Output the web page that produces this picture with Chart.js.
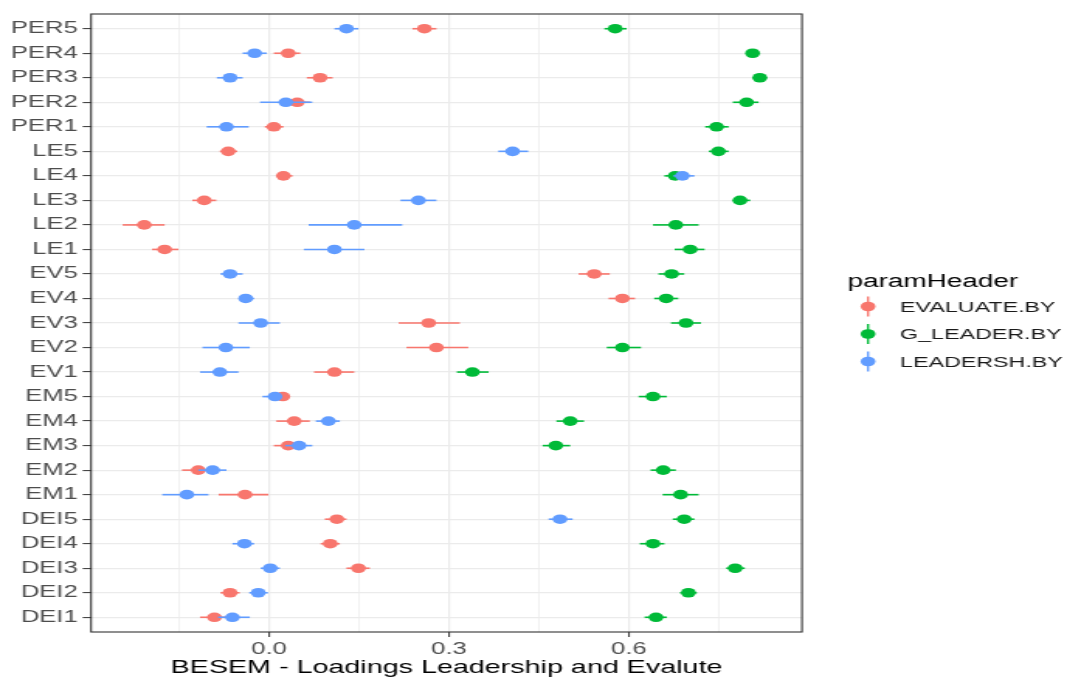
<!DOCTYPE html>
<html>
<head>
<meta charset="utf-8">
<script src="https://cdn.jsdelivr.net/npm/chart.js@4"></script>
<style>
  html, body { margin: 0; padding: 0; background: #fff; }
  /* the reference is stretched sideways, so the canvas is drawn narrow and widened by css */
  #grafico { display: block; width: 1067px; height: 680px; }
</style>
</head>
<body>
<canvas id="grafico" width="688" height="680" style="width:1067px;height:680px"></canvas>
<script>
// categorias de abajo hacia arriba
const categorias = ['DEI1','DEI2','DEI3','DEI4','DEI5','EM1','EM2','EM3','EM4','EM5',
  'EV1','EV2','EV3','EV4','EV5','LE1','LE2','LE3','LE4','LE5',
  'PER1','PER2','PER3','PER4','PER5'];

// EVALUATE.BY
const evaluateEst = [-0.091,-0.065,0.149,0.102,0.113,-0.040,-0.118,0.032,0.042,0.023,
  0.109,0.279,0.266,0.589,0.542,-0.174,-0.208,-0.108,0.024,-0.068,
  0.008,0.047,0.085,0.032,0.259];
const evaluateLo = [-0.115,-0.081,0.129,0.086,0.093,-0.084,-0.145,0.008,0.012,0.002,
  0.075,0.229,0.216,0.566,0.516,-0.195,-0.244,-0.128,0.012,-0.082,
  -0.007,0.027,0.063,0.008,0.239];
const evaluateHi = [-0.068,-0.049,0.168,0.118,0.129,-0.001,-0.095,0.058,0.068,0.035,
  0.142,0.332,0.318,0.610,0.568,-0.151,-0.174,-0.088,0.039,-0.053,
  0.024,0.068,0.106,0.052,0.279];

// G_LEADER.BY
const gLeaderEst = [0.645,0.699,0.777,0.640,0.692,0.686,0.657,0.478,0.502,0.640,
  0.339,0.589,0.695,0.662,0.671,0.702,0.678,0.785,0.677,0.749,
  0.746,0.796,0.818,0.806,0.577];
const gLeaderLo = [0.626,0.685,0.762,0.618,0.673,0.656,0.636,0.456,0.479,0.616,
  0.313,0.563,0.670,0.642,0.649,0.676,0.640,0.773,0.659,0.733,
  0.727,0.773,0.806,0.795,0.559];
const gLeaderHi = [0.663,0.713,0.793,0.659,0.709,0.716,0.678,0.502,0.525,0.663,
  0.366,0.620,0.720,0.682,0.692,0.726,0.716,0.802,0.698,0.766,
  0.766,0.816,0.830,0.817,0.596];

// LEADERSH.BY
const leadershEst = [-0.061,-0.018,0.002,-0.041,0.485,-0.137,-0.094,0.050,0.099,0.010,
  -0.082,-0.072,-0.014,-0.039,-0.065,0.109,0.142,0.249,0.689,0.406,
  -0.071,0.028,-0.065,-0.024,0.129];
const leadershLo = [-0.085,-0.033,-0.014,-0.061,0.466,-0.178,-0.118,0.027,0.078,-0.011,
  -0.115,-0.111,-0.051,-0.050,-0.081,0.058,0.066,0.219,0.674,0.382,
  -0.104,-0.015,-0.087,-0.044,0.109];
const leadershHi = [-0.032,-0.002,0.018,-0.025,0.506,-0.101,-0.071,0.072,0.118,0.021,
  -0.051,-0.032,0.018,-0.025,-0.044,0.159,0.222,0.279,0.709,0.432,
  -0.034,0.072,-0.044,-0.004,0.149];

const ticksX = [-0.15, 0, 0.15, 0.3, 0.45, 0.6, 0.75];
const ticksXLabel = [0, 0.3, 0.6];

const series = [
  {nombre:'EVALUATE.BY', color:'#F8766D', est:evaluateEst, lo:evaluateLo, hi:evaluateHi, orden:2},
  {nombre:'G_LEADER.BY', color:'#00BA38', est:gLeaderEst, lo:gLeaderLo, hi:gLeaderHi, orden:1},
  {nombre:'LEADERSH.BY', color:'#619CFF', est:leadershEst, lo:leadershLo, hi:leadershHi, orden:0}
];

const fuente = "'Liberation Sans', Arial, sans-serif";
const esMayor = v => ticksXLabel.some(t => Math.abs(t - v) < 1e-6);

// barras de error por dataset, antes de sus puntos
const barrasError = {
  id: 'barrasError',
  beforeDatasetDraw(chart, args) {
    const s = series[args.index];
    const {ctx, scales: {x, y}} = chart;
    ctx.save();
    ctx.strokeStyle = s.color;
    ctx.lineWidth = 1.6;
    s.est.forEach((v, i) => {
      const py = y.getPixelForValue(i);
      ctx.beginPath();
      ctx.moveTo(x.getPixelForValue(s.lo[i]), py);
      ctx.lineTo(x.getPixelForValue(s.hi[i]), py);
      ctx.stroke();
    });
    ctx.restore();
  }
};

// borde del panel y leyenda al estilo ggplot
const marcoLeyenda = {
  id: 'marcoLeyenda',
  afterDraw(chart) {
    const {ctx, chartArea: a} = chart;
    ctx.save();
    ctx.strokeStyle = '#333333';
    ctx.lineWidth = 1.1;
    ctx.strokeRect(a.left, a.top, a.right - a.left, a.bottom - a.top);

    ctx.fillStyle = '#000';
    ctx.textBaseline = 'middle';
    ctx.textAlign = 'left';
    ctx.font = '18px ' + fuente;
    ctx.fillText('paramHeader', 546.5, 282);
    const ys = [306.5, 334, 361.5];
    ctx.font = '15px ' + fuente;
    series.forEach((s, i) => {
      const cx = 559.7, cy = ys[i];
      ctx.strokeStyle = s.color;
      ctx.lineWidth = 1.4;
      ctx.beginPath();
      ctx.moveTo(cx, cy - 10);
      ctx.lineTo(cx, cy + 10);
      ctx.stroke();
      ctx.fillStyle = s.color;
      ctx.beginPath();
      ctx.arc(cx, cy, 4.8, 0, Math.PI * 2);
      ctx.fill();
      ctx.fillStyle = '#1a1a1a';
      ctx.fillText(s.nombre, 580.3, cy + 1);
    });
    ctx.restore();
  }
};

const ctx = document.getElementById('grafico').getContext('2d');
new Chart(ctx, {
  type: 'scatter',
  data: {
    datasets: series.map(s => ({
      label: s.nombre,
      data: s.est.map((v, i) => ({x: v, y: i})),
      backgroundColor: s.color,
      borderColor: s.color,
      borderWidth: 0,
      pointRadius: 4.8,
      pointHoverRadius: 4.8,
      order: s.orden
    }))
  },
  options: {
    responsive: false,
    devicePixelRatio: 1,
    animation: false,
    layout: { padding: { top: 14, right: 170.9, left: 0, bottom: 0 } },
    plugins: { legend: { display: false }, tooltip: { enabled: false } },
    scales: {
      x: {
        type: 'linear',
        min: -0.2967,
        max: 0.8883,
        afterBuildTicks: scale => { scale.ticks = ticksX.map(v => ({value: v})); },
        afterFit: scale => { scale.height = 48; },
        ticks: {
          autoSkip: false,
          padding: 3,
          color: '#4D4D4D',
          font: { family: fuente, size: 16.5 },
          callback: v => esMayor(v) ? v.toFixed(1) : ''
        },
        grid: {
          color: '#EBEBEB',
          lineWidth: c => esMayor(c.tick.value) ? 1.2 : 0.7,
          tickLength: 5,
          tickColor: c => esMayor(c.tick.value) ? '#333333' : 'rgba(0,0,0,0)',
          tickWidth: 1
        },
        border: { display: false },
        title: {
          display: true,
          text: 'BESEM - Loadings Leadership and Evalute',
          color: '#000',
          font: { family: fuente, size: 18.5 },
          padding: { top: 0, bottom: 1 }
        }
      },
      y: {
        type: 'linear',
        min: -0.6,
        max: 24.6,
        afterBuildTicks: scale => { scale.ticks = categorias.map((c, i) => ({value: i})); },
        afterFit: scale => { scale.width = 58.7; },
        ticks: {
          autoSkip: false,
          padding: 3.2,
          color: '#4D4D4D',
          font: { family: fuente, size: 16.5 },
          callback: v => categorias[v]
        },
        grid: {
          color: '#EBEBEB',
          lineWidth: 1.2,
          tickLength: 5.4,
          tickColor: '#333333',
          tickWidth: 1
        },
        border: { display: false }
      }
    }
  },
  plugins: [barrasError, marcoLeyenda]
});
</script>
</body>
</html>
